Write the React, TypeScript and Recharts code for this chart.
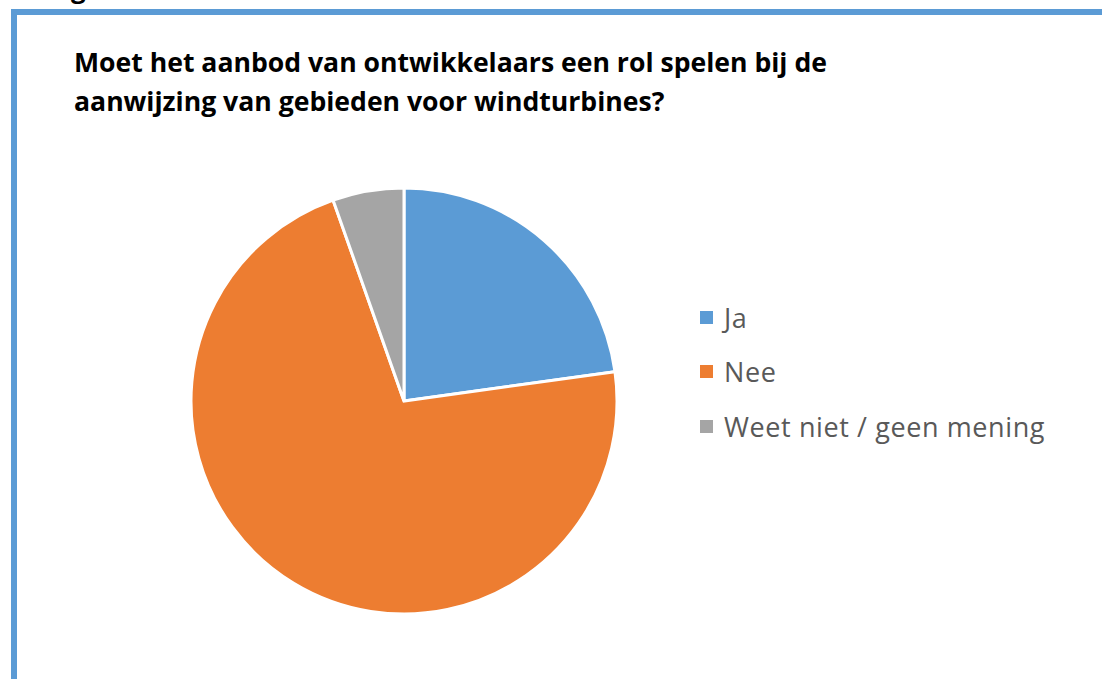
import { PieChart, Pie, Cell, Legend } from 'recharts';

// antwoorden (aandeel in %)
const categories = ['Ja', 'Nee', 'Weet niet / geen mening'];
const shares = [22.8, 71.8, 5.4];
const colors = ['#5b9bd5', '#ed7d31', '#a5a5a5'];

const titleLines = [
  'Moet het aanbod van ontwikkelaars een rol spelen bij de',
  'aanwijzing van gebieden voor windturbines?',
];

const data = categories.map((name, i) => ({ name, value: shares[i] }));

const renderLegend = (props: any) => {
  const { payload } = props;
  return (
    <div style={{ margin: 0, padding: 0 }}>
      {payload.map((entry: any, i: number) => (
        <div key={`item-${i}`} style={{ display: 'flex', alignItems: 'center', height: 54.5 }}>
          <span style={{ display: 'inline-block', width: 13, height: 13, background: entry.color, marginRight: 11 }} />
          <span style={{ fontFamily: '"Open Sans", sans-serif', fontSize: 27, letterSpacing: 0.6, color: '#595959', whiteSpace: 'nowrap' }}>
            {entry.value}
          </span>
        </div>
      ))}
    </div>
  );
};

export default function App() {
  return (
    <div style={{ position: 'absolute', left: 0, top: 0, width: 1102, height: 679, background: '#fff', overflow: 'hidden' }}>
      {/* afgesneden tekst boven het kader */}
      <div style={{ position: 'absolute', left: 71, top: -27, fontFamily: '"Open Sans", sans-serif', fontWeight: 700, fontSize: 26, lineHeight: '30px', color: '#000' }}>
        g
      </div>

      {/* kader */}
      <div style={{ position: 'absolute', left: 11, top: 9, width: 1200, height: 800, border: '6px solid #5b9bd5', boxSizing: 'border-box' }} />

      <div style={{ position: 'absolute', left: 74, top: 43, fontFamily: '"Open Sans", sans-serif', fontWeight: 700, fontSize: 26.6, lineHeight: '39px', color: '#000' }}>
        {titleLines.map((t, i) => (
          <div key={i} style={{ whiteSpace: 'nowrap' }}>{t}</div>
        ))}
      </div>

      <div style={{ position: 'absolute', left: 0, top: 0 }}>
        <PieChart width={1102} height={679} margin={{ top: 0, right: 0, bottom: 0, left: 0 }}>
          <Pie
            data={data}
            dataKey="value"
            nameKey="name"
            cx={404}
            cy={401}
            outerRadius={213}
            startAngle={90}
            endAngle={-270}
            stroke="#ffffff"
            strokeWidth={3}
            isAnimationActive={false}
          >
            {data.map((d, i) => (
              <Cell key={`cell-${i}`} fill={colors[i]} />
            ))}
          </Pie>
          <Legend
            layout="vertical"
            content={renderLegend}
            wrapperStyle={{ left: 700, top: 290, width: 400 }}
          />
        </PieChart>
      </div>
    </div>
  );
}
